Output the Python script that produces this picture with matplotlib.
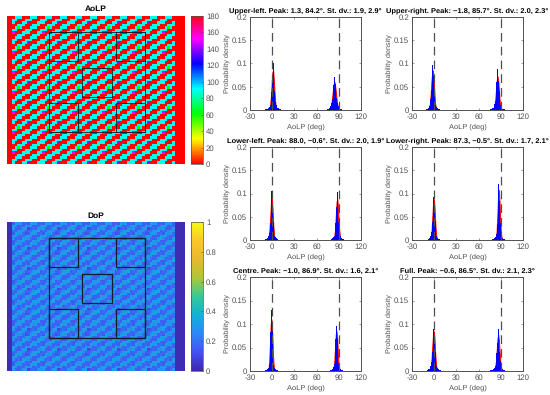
import numpy as np
import matplotlib
matplotlib.use('Agg')
import matplotlib.pyplot as plt
from matplotlib.colors import LinearSegmentedColormap
from matplotlib.patches import Rectangle
##########################################################
plt.rcParams['font.family'] = ['Liberation Sans', 'DejaVu Sans']
plt.rcParams['text.hinting'] = 'no_hinting'
W, H = 550, 395
GREY = '#505050'
##########################################################
# repeating cell of each map (about 2.5 px per cell)
aolp_tile = [
    [  0,  2,  0, 90, 90, 92,  0,  1,  0, 90, 88, 90],
    [  1, 90, 92, 90,  0,  2,  0, 90, 90, 90,  0,  0],
    [ 90, 88, 90,  0,  0,  1, 90, 90,140,  0,  2,  0],
    [ 90,  0,  2,  0, 90, 90, 92,  0,  0,  1, 90, 90],
    [  0,  1,  0, 90, 60, 90,  0,  2,  0, 90, 90, 92],
    [  2, 90, 90, 88,  0,  0,  1, 90, 90, 90,  0,  0],
    [ 90, 92,150,  0,  2,  0, 90, 88, 90,  0,  1,  0],
    [ 90,  0,  0,  1, 90, 90, 90,  2,  0,  0, 92, 90],
]
dop_tile = [
    [.17, .19, .15, .33, .29, .30, .16, .18, .15, .34, .30, .31],
    [.19, .30, .34, .28, .15, .19, .17, .32, .29, .30, .16, .18],
    [.30, .28, .32, .17, .15, .19, .31, .34, .10, .16, .19, .15],
    [.34, .15, .19, .17, .30, .33, .28, .16, .17, .21, .30, .34],
    [.16, .19, .15, .33, .28, .31, .18, .12, .15, .29, .33, .30],
    [.17, .31, .29, .34, .19, .16, .18, .30, .33, .28, .17, .15],
    [.31, .34, .28, .16, .19, .15, .33, .30, .29, .19, .15, .17],
    [.33, .17, .15, .19, .30, .29, .34, .16, .18, .15, .31, .29],
]
# boxes on the maps: left, top, width, height in image pixels
boxes = [(42, 16, 96, 100), (42, 16, 29, 29), (109, 16, 29, 29),
         (42, 87, 29, 29), (109, 87, 29, 29), (75, 52, 30, 29)]
parula = ['#3E26A8', '#4352F4', '#2E87F7', '#11B1D6', '#37C897',
          '#ACC739', '#E8B82E', '#FBC72C', '#F5F90F']

# histograms (x1000), bins from -11 to +13 deg round each peak
blue_offs = np.arange(-11, 14)
red_offs = np.arange(-6, 7)

ul_peaks = [1.3, 84.2]
ul_blue_a = [1, 2, 2, 3, 4, 5, 7, 10, 18, 38, 70, 100, 72, 40, 18, 10, 7, 5, 4, 3, 2, 2, 1, 1, 1]
ul_red_a = [1, 4, 12, 30, 58, 82, 85, 62, 34, 13, 4, 1, 0]
ul_blue_b = [1, 2, 3, 3, 4, 5, 8, 14, 24, 40, 54, 71, 56, 42, 26, 14, 8, 5, 3, 3, 2, 1, 1, 1, 1]
ul_red_b = [3, 8, 16, 30, 45, 57, 60, 50, 36, 20, 10, 4, 1]

ur_peaks = [-1.8, 85.7]
ur_blue_a = [1, 1, 2, 2, 3, 5, 8, 13, 24, 44, 72, 96, 74, 46, 24, 11, 6, 4, 3, 2, 2, 1, 1, 1, 1]
ur_red_a = [2, 5, 14, 32, 60, 80, 85, 66, 36, 14, 5, 1, 0]
ur_blue_b = [1, 2, 2, 3, 4, 5, 8, 12, 20, 36, 60, 88, 62, 40, 22, 11, 6, 4, 3, 2, 2, 1, 1, 1, 1]
ur_red_b = [2, 5, 12, 26, 48, 66, 72, 60, 36, 16, 6, 2, 0]

ll_peaks = [-0.6, 88.0]
ll_blue_a = [1, 1, 1, 2, 3, 4, 6, 9, 16, 36, 72, 105, 74, 38, 16, 9, 6, 4, 3, 2, 1, 1, 1, 1, 1]
ll_red_a = [0, 2, 8, 24, 52, 82, 90, 68, 34, 12, 4, 1, 0]
ll_blue_b = [1, 1, 1, 2, 3, 4, 6, 9, 16, 36, 70, 103, 72, 38, 17, 9, 6, 4, 3, 2, 1, 1, 1, 1, 1]
ll_red_b = [0, 2, 8, 24, 54, 82, 88, 68, 36, 14, 4, 1, 0]

lr_peaks = [-0.5, 87.3]
lr_blue_a = [1, 1, 1, 2, 3, 4, 6, 9, 18, 38, 70, 93, 72, 40, 18, 9, 5, 3, 2, 2, 1, 1, 1, 1, 1]
lr_red_a = [0, 2, 7, 22, 50, 80, 88, 68, 34, 12, 4, 1, 0]
lr_blue_b = [1, 1, 1, 2, 3, 4, 5, 7, 13, 34, 80, 120, 84, 36, 15, 8, 5, 3, 2, 2, 1, 1, 1, 1, 1]
lr_red_b = [0, 1, 5, 18, 52, 94, 108, 82, 38, 12, 3, 1, 0]

c_peaks = [-1.0, 86.9]
c_blue_a = [1, 1, 1, 2, 3, 4, 5, 7, 14, 36, 84, 130, 86, 36, 13, 7, 4, 3, 2, 2, 1, 1, 1, 1, 1]
c_red_a = [0, 1, 5, 20, 58, 100, 110, 82, 36, 10, 3, 0, 0]
c_blue_b = [1, 1, 1, 2, 3, 4, 5, 8, 15, 36, 68, 95, 70, 36, 15, 8, 5, 3, 2, 2, 1, 1, 1, 1, 1]
c_red_b = [0, 2, 6, 20, 50, 78, 85, 68, 34, 12, 3, 1, 0]

f_peaks = [-0.6, 86.5]
f_blue_a = [1, 1, 2, 3, 4, 5, 7, 10, 20, 40, 68, 90, 70, 40, 20, 10, 6, 4, 3, 2, 2, 1, 1, 1, 1]
f_red_a = [1, 3, 9, 26, 52, 78, 85, 68, 36, 14, 5, 1, 0]
f_blue_b = [1, 2, 2, 3, 4, 5, 7, 11, 20, 38, 60, 90, 62, 40, 22, 11, 6, 4, 3, 2, 2, 1, 1, 1, 1]
f_red_b = [1, 3, 9, 22, 44, 68, 78, 64, 38, 18, 6, 2, 0]

titles = ['Upper-left. Peak: 1.3, 84.2\u00b0. St. dv.: 1.9, 2.9\u00b0',
          'Upper-right. Peak: \u22121.8, 85.7\u00b0. St. dv.: 2.0, 2.3\u00b0',
          'Lower-left. Peak: 88.0, \u22120.6\u00b0. St. dv.: 2.0, 1.9\u00b0',
          'Lower-right. Peak: 87.3, \u22120.5\u00b0. St. dv.: 1.7, 2.1\u00b0',
          'Centre. Peak: \u22121.0, 86.9\u00b0. St. dv.: 1.6, 2.1\u00b0',
          'Full. Peak: \u22120.6, 86.5\u00b0. St. dv.: 2.1, 2.3\u00b0']
panels = [(ul_peaks, ul_blue_a, ul_red_a, ul_blue_b, ul_red_b),
          (ur_peaks, ur_blue_a, ur_red_a, ur_blue_b, ur_red_b),
          (ll_peaks, ll_blue_a, ll_red_a, ll_blue_b, ll_red_b),
          (lr_peaks, lr_blue_a, lr_red_a, lr_blue_b, lr_red_b),
          (c_peaks, c_blue_a, c_red_a, c_blue_b, c_red_b),
          (f_peaks, f_blue_a, f_red_a, f_blue_b, f_red_b)]
##########################################################


def box(x0, y0, x1, y1):
    # pixel box of the reference -> figure fractions
    return [x0 / W, 1 - y1 / H, (x1 - x0) / W, (y1 - y0) / H]


def draw_map(tile, band_val, cmap, vmax, ticks, y0, y1, lw, title, title_y):
    data = np.tile(np.array(tile), (8, 6))[:59, :71].astype(float)
    data[:, :2] = band_val
    data[:, 67:] = band_val
    ax = fig.add_axes(box(7, y0, 185, y1))
    im = ax.imshow(data, cmap=cmap, vmin=0, vmax=vmax, aspect='auto',
                   extent=(0, 178, y1 - y0, 0), interpolation='nearest')
    for left, top, w, h in boxes:
        ax.add_patch(Rectangle((left, top), w, h, fill=False, ec='#10202a', lw=lw))
    ax.axis('off')
    fig.text(96 / W, 1 - title_y / H, title, ha='center', va='center',
             fontsize=6, fontweight='bold', color='black')
    cax = fig.add_axes(box(191, y0, 203, y1))
    cb = fig.colorbar(im, cax=cax, ticks=ticks)
    cb.ax.set_yticklabels([f'{t:g}' for t in ticks])
    cb.ax.tick_params(labelsize=5.6, length=1.5, width=0.4, color=GREY,
                      labelcolor=GREY, pad=2.2, direction='in')
    cb.outline.set_edgecolor(GREY)
    cb.outline.set_linewidth(0.5)


def draw_hist(pos, title, peaks, blue_a, red_a, blue_b, red_b):
    ax = fig.add_axes(box(*pos))
    ax.set_xlim(-30, 120)
    ax.set_ylim(0, 0.2)
    for peak, blue, red in ((peaks[0], blue_a, red_a), (peaks[1], blue_b, red_b)):
        ax.fill_between(peak + red_offs, np.array(red) / 1000, color='#ff0000', lw=0.7, zorder=2)
        ax.bar(peak + blue_offs, np.array(blue) / 1000, width=1.1, color='#0000ff', lw=0, zorder=3)
    for v in (0, 90):
        ax.axvline(v, color='#505050', lw=0.9, dashes=(7, 4), zorder=4)
    ax.set_xticks([-30, 0, 30, 60, 90, 120])
    ax.set_xticklabels(['-30', '0', '30', '60', '90', '120'])
    ax.set_yticks([0, 0.05, 0.1, 0.15, 0.2])
    ax.set_yticklabels(['0', '0.05', '0.1', '0.15', '0.2'])
    ax.tick_params(labelsize=5.6, length=1.5, width=0.4, color=GREY, labelcolor=GREY,
                   direction='in', top=True, right=True, pad=2)
    for s in ax.spines.values():
        s.set_color(GREY)
        s.set_linewidth(0.7)
    ax.set_xlabel('AoLP (deg)', fontsize=5.4, color=GREY, labelpad=2)
    ax.set_ylabel('Probability density', fontsize=5.2, color=GREY, labelpad=1.5)
    ax.set_title(title, fontsize=5.4, fontweight='bold', color='black', pad=3)


fig = plt.figure(figsize=(W / 100, H / 100), dpi=100)
draw_map(aolp_tile, 0, 'hsv', 180, list(range(0, 181, 20)), 16, 164, 0.6, 'AoLP', 9)
cmap_p = LinearSegmentedColormap.from_list('parula', parula)
draw_map(dop_tile, 0.02, cmap_p, 1, [0, 0.2, 0.4, 0.6, 0.8, 1], 222, 371, 0.9, 'DoP', 216)

rows = [(17, 110), (147, 240), (277, 371)]
cols = [(250, 361), (412, 523)]
k = 0
for y0, y1 in rows:
    for x0, x1 in cols:
        draw_hist((x0, y0, x1, y1), titles[k], *panels[k])
        k += 1

fig.savefig('out.png', dpi=100)
